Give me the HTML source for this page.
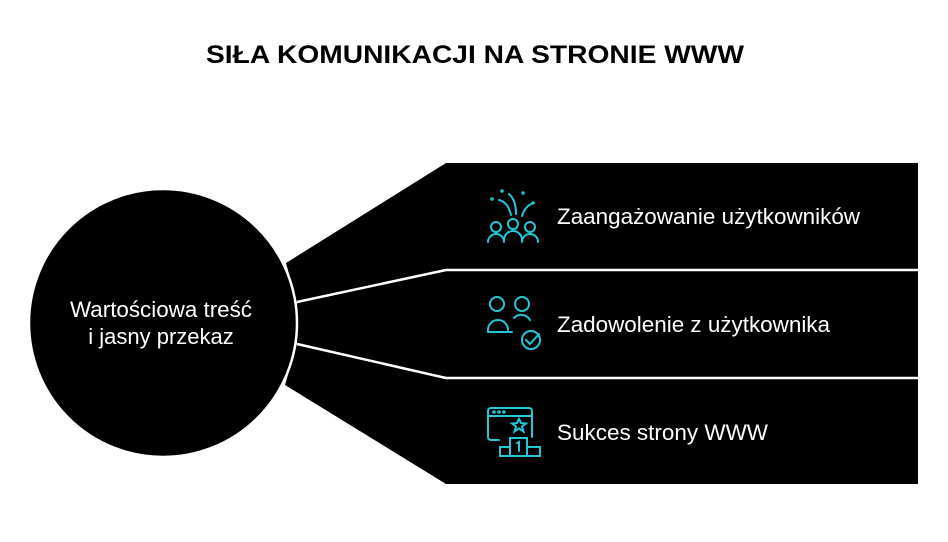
<!DOCTYPE html>
<html><head><meta charset="utf-8"><style>
html,body{margin:0;padding:0;background:#fff;}
svg{display:block;}
text{font-family:"Liberation Sans",Arial,sans-serif;}
</style></head><body>
<svg width="948" height="542" viewBox="0 0 948 542" xmlns="http://www.w3.org/2000/svg">
<text x="475" y="63" text-anchor="middle" font-size="25" font-weight="bold" fill="#000" textLength="538" lengthAdjust="spacingAndGlyphs">SIŁA KOMUNIKACJI NA STRONIE WWW</text>

<polygon points="286,263 446,163 918,163 918,269 446,269 297,303" fill="#000"/>
<polygon points="297,303 446,271 918,271 918,377 446,377 297,343" fill="#000"/>
<polygon points="297,343 446,379 918,379 918,484 446,484 285,385" fill="#000"/>
<line x1="297" y1="302" x2="446" y2="270" stroke="#fff" stroke-width="2.5"/>
<line x1="446" y1="270" x2="918" y2="270" stroke="#fff" stroke-width="2.5"/>
<line x1="297" y1="344" x2="446" y2="378" stroke="#fff" stroke-width="2.5"/>
<line x1="446" y1="378" x2="918" y2="378" stroke="#fff" stroke-width="2.5"/>

<circle cx="163" cy="323" r="134" fill="#000" stroke="#fff" stroke-width="2.5"/>
<text x="161" y="317" text-anchor="middle" font-size="22" fill="#fff" textLength="182" lengthAdjust="spacingAndGlyphs">Wartościowa treść</text>
<text x="161" y="344" text-anchor="middle" font-size="22" fill="#fff">i jasny przekaz</text>

<g fill="none" stroke="#22c7d8" stroke-width="2" stroke-linecap="round">
 <circle cx="496" cy="227" r="5"/><circle cx="513" cy="224" r="5"/><circle cx="530" cy="227" r="5"/>
 <path d="M488,242 a8,8 0 0 1 16,0"/><path d="M504,240 a9,9 0 0 1 18,0"/><path d="M522,242 a8,8 0 0 1 16,0"/>
 <path d="M499,200 q9,2 12,15"/><path d="M509,194 q7,6 7,20"/><path d="M522,216 q2,-8 9,-12"/>
 <circle cx="492" cy="199" r="0.8"/><circle cx="502" cy="191" r="0.8"/><circle cx="523" cy="193" r="0.8"/><circle cx="533" cy="203" r="0.8"/>
 <circle cx="497" cy="304" r="7"/><circle cx="522" cy="304" r="7"/>
 <path d="M488,332 v-2 a10,10 0 0 1 20,0 M488,332 h24"/>
 <path d="M514,318 a10,10 0 0 1 16,2"/>
 <circle cx="531" cy="340" r="9"/>
 <path d="M526,340 l4,4 l9,-10"/>
 <path d="M499,440 h-8 a3,3 0 0 1 -3,-3 v-26 a3,3 0 0 1 3,-3 h38 a3,3 0 0 1 3,3 v26"/>
 <line x1="488" y1="416" x2="532" y2="416"/>
 <circle cx="494" cy="412" r="0.8"/><circle cx="499" cy="412" r="0.8"/><circle cx="504" cy="412" r="0.8"/>
 <path d="M519,419 l2,4 l5,0.5 l-4,3 l1.5,5 l-4.5,-3 l-4.5,3 l1.5,-5 l-4,-3 l5,-0.5 z"/>
 <rect x="510" y="438" width="17" height="18"/>
 <rect x="500" y="447" width="10" height="9"/><rect x="527" y="447" width="13" height="9"/>
 <path d="M517,443 l2,-1 v9"/>
</g>

<text x="557" y="224" font-size="22" fill="#fff" textLength="303" lengthAdjust="spacingAndGlyphs">Zaangażowanie użytkowników</text>
<text x="557" y="332" font-size="22" fill="#fff" textLength="273" lengthAdjust="spacingAndGlyphs">Zadowolenie z użytkownika</text>
<text x="557" y="440" font-size="22" fill="#fff" textLength="211" lengthAdjust="spacingAndGlyphs">Sukces strony WWW</text>
</svg>
</body></html>
